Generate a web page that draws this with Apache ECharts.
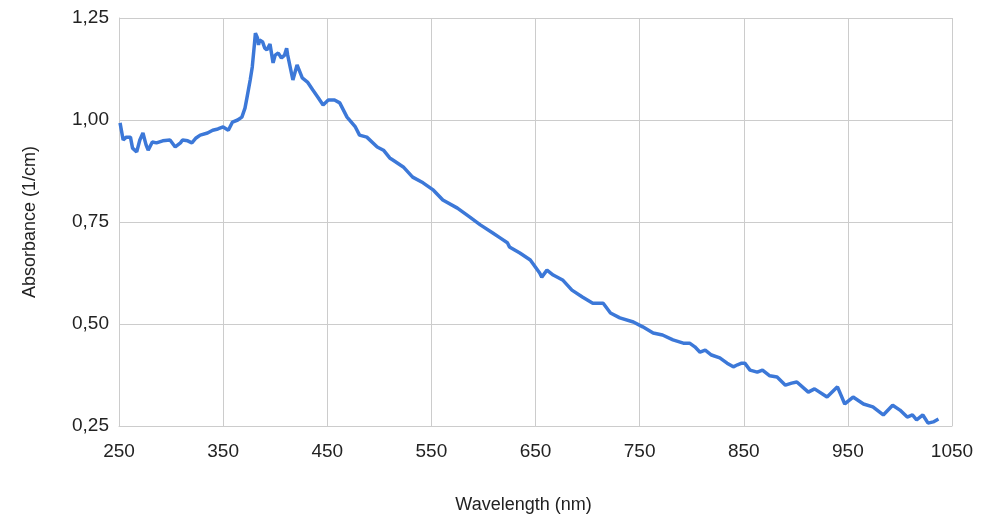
<!DOCTYPE html>
<html>
<head>
<meta charset="utf-8">
<script src="https://cdn.jsdelivr.net/npm/echarts@6/dist/echarts.min.js"></script>
<style>
  html, body { margin: 0; padding: 0; background: #fff; }
  #main { width: 981px; height: 526px; }
</style>
</head>
<body>
<div id="main"></div>
<script>
// wavelength (nm)
var wavelength = [251, 254, 257, 261, 263, 267, 270, 273, 276, 278, 282, 286, 292, 299, 304, 309, 311, 316, 320, 324,
    328, 335, 340, 345, 350, 355, 359, 364, 368, 371, 373, 376, 378, 380, 381, 383, 384, 385, 388, 390,
    392, 395, 398, 400, 403, 406, 409, 411, 412, 417, 421, 426, 431, 436, 441, 446, 451, 457, 462, 469,
    477, 481, 488, 498, 504, 510, 513, 523, 532, 542, 552, 561, 575, 587, 597, 609, 616, 623, 625, 635,
    645, 654, 656, 661, 667, 676, 685, 695, 705, 715, 722, 731, 744, 753, 763, 772, 782, 792, 798, 803,
    808, 813, 819, 827, 834, 840, 844, 848, 851, 856, 863, 868, 875, 882, 890, 896, 901, 912, 918, 930,
    940, 947, 955, 965, 974, 984, 993, 1000, 1007, 1012, 1016, 1022, 1027, 1032, 1037];

// absorbance (1/cm)
var absorbance = [0.993, 0.951, 0.958, 0.958, 0.931, 0.922, 0.951, 0.968, 0.939, 0.926, 0.946, 0.944, 0.949, 0.951, 0.934, 0.944, 0.951, 0.949, 0.944, 0.956,
    0.963, 0.968, 0.975, 0.978, 0.983, 0.975, 0.995, 1.000, 1.007, 1.029, 1.056, 1.098, 1.130, 1.184, 1.213, 1.201, 1.184, 1.196, 1.191, 1.176,
    1.172, 1.186, 1.140, 1.159, 1.164, 1.152, 1.159, 1.176, 1.159, 1.098, 1.135, 1.103, 1.093, 1.074, 1.056, 1.037, 1.049, 1.049, 1.042, 1.007,
    0.983, 0.963, 0.958, 0.934, 0.926, 0.907, 0.902, 0.885, 0.860, 0.846, 0.828, 0.804, 0.784, 0.762, 0.743, 0.723, 0.711, 0.699, 0.689, 0.674,
    0.657, 0.625, 0.615, 0.632, 0.620, 0.608, 0.583, 0.566, 0.551, 0.551, 0.527, 0.515, 0.505, 0.493, 0.478, 0.473, 0.461, 0.453, 0.453, 0.444,
    0.431, 0.436, 0.424, 0.417, 0.404, 0.395, 0.400, 0.404, 0.404, 0.387, 0.382, 0.387, 0.373, 0.370, 0.350, 0.355, 0.358, 0.333, 0.341, 0.321,
    0.346, 0.304, 0.321, 0.304, 0.297, 0.277, 0.301, 0.289, 0.272, 0.277, 0.265, 0.277, 0.257, 0.260, 0.267];

var xTicks = [250, 350, 450, 550, 650, 750, 850, 950, 1050];
var yTicks = [0.25, 0.5, 0.75, 1.0, 1.25];

var points = wavelength.map(function (w, i) {
    return [w, absorbance[i]];
});

var myChart = echarts.init(document.getElementById('main'));
var gridColor = '#cccccc';
var textColor = '#222222';

var options = {
    animation: false,
    grid: {
        left: 119,
        right: 29,
        top: 18,
        bottom: 100
    },
    xAxis: {
        type: 'value',
        min: xTicks[0],
        max: xTicks[xTicks.length - 1],
        interval: 100,
        name: 'Wavelength (nm)',
        nameLocation: 'middle',
        nameGap: 70,
        nameTextStyle: {
            fontFamily: 'Liberation Sans',
            fontSize: 18,
            color: textColor,
            padding: [0, 24, 0, 0]
        },
        axisLine: { show: true, lineStyle: { color: gridColor, width: 1 } },
        axisTick: { show: false },
        axisLabel: {
            margin: 16,
            fontFamily: 'Liberation Sans',
            fontSize: 19,
            color: textColor,
            formatter: function (v) {
                return String(v);
            }
        },
        splitLine: { show: true, lineStyle: { color: gridColor, width: 1 } }
    },
    yAxis: {
        type: 'value',
        min: yTicks[0],
        max: yTicks[yTicks.length - 1],
        interval: 0.25,
        name: 'Absorbance (1/cm)',
        nameLocation: 'middle',
        nameGap: 80,
        nameTextStyle: {
            fontFamily: 'Liberation Sans',
            fontSize: 18,
            color: textColor
        },
        axisLine: { show: true, lineStyle: { color: gridColor, width: 1 } },
        axisTick: { show: false },
        axisLabel: {
            margin: 10,
            fontFamily: 'Liberation Sans',
            fontSize: 19,
            color: textColor,
            formatter: function (v) {
                return v.toFixed(2).replace('.', ',');
            }
        },
        splitLine: { show: true, lineStyle: { color: gridColor, width: 1 } }
    },
    series: [{
        type: 'line',
        data: points,
        showSymbol: false,
        lineStyle: { color: '#3c78d8', width: 3.5 },
        itemStyle: { color: '#3c78d8' }
    }]
};
myChart.setOption(options);
</script>
</body>
</html>
